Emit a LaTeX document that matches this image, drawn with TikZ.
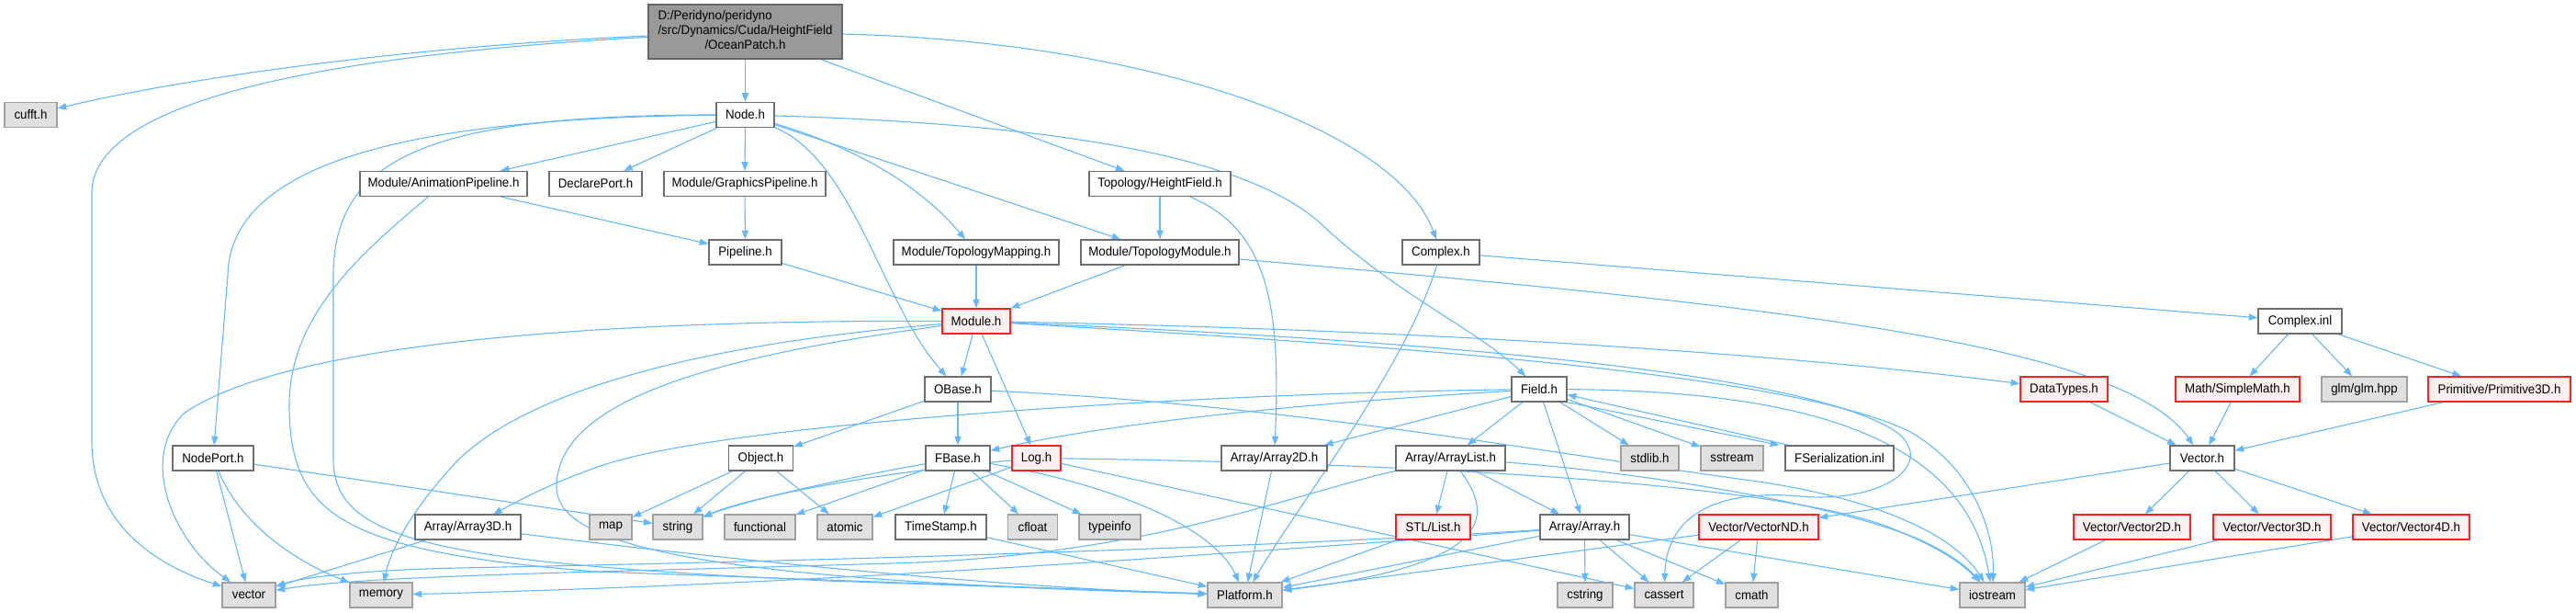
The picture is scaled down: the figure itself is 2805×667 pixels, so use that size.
\documentclass[tikz,border=0pt]{standalone}
\usepackage{fontspec}
\setmainfont{Liberation Sans}[FakeStretch=0.95]
\usetikzlibrary{arrows.meta,backgrounds}
\definecolor{edgec}{HTML}{63B8FF}
\definecolor{wborder}{HTML}{6E6E6E}
\definecolor{gfill}{HTML}{E0E0E0}
\definecolor{gborder}{HTML}{A0A0A0}
\definecolor{rfill}{HTML}{FFF0F0}
\definecolor{rborder}{HTML}{FF2020}
\definecolor{ofill}{HTML}{999999}
\definecolor{oborder}{HTML}{666666}
\tikzset{
  base/.style={rectangle, inner sep=0pt, minimum height=13.5pt, line width=0.65pt,
    font=\fontsize{7}{8}\selectfont, text=black},
  wbox/.style={base, draw=wborder, fill=white},
  gbox/.style={base, draw=gborder, fill=gfill},
  rbox/.style={base, draw=rborder, fill=rfill},
  obox/.style={base, draw=oborder, fill=ofill},
  e/.style={draw=edgec, line width=0.55pt, -{Triangle[length=4.8pt,width=3.6pt]}},
}
\begin{document}
\begin{tikzpicture}[x=0.5pt, y=-0.5pt]
\useasboundingbox (0,0) rectangle (2805,667);
% row 0
\node[obox, minimum width=105.5pt, minimum height=29.5pt] (ocean) at (811.5,34.5)
  {\begin{tabular}{@{}l@{}}D:/Peridyno/peridyno\\/src/Dynamics/Cuda/HeightField\\\multicolumn{1}{@{}c@{}}{/OceanPatch.h}\end{tabular}};
% row 1
\node[gbox, minimum width=28.5pt] (cufft) at (33.5,125) {cufft.h};
\node[wbox, minimum width=31.5pt] (node) at (811.5,125) {Node.h};
% row 2
\node[wbox, minimum width=91pt] (anim) at (483,200) {Module/AnimationPipeline.h};
\node[wbox, minimum width=50.5pt] (declare) at (648.5,200) {DeclarePort.h};
\node[wbox, minimum width=88pt] (graphics) at (811,200) {Module/GraphicsPipeline.h};
\node[wbox, minimum width=77pt] (heightfield) at (1263,200) {Topology/HeightField.h};
% row 3
\node[wbox, minimum width=39.5pt] (pipeline) at (811.5,274.5) {Pipeline.h};
\node[wbox, minimum width=90pt] (topomap) at (1063,274.5) {Module/TopologyMapping.h};
\node[wbox, minimum width=86pt] (topomod) at (1263,274.5) {Module/TopologyModule.h};
\node[wbox, minimum width=42pt] (complexh) at (1569,274.5) {Complex.h};
% row 4
\node[rbox, minimum width=37pt] (module) at (1063,349.5) {Module.h};
\node[wbox, minimum width=45.5pt] (complexinl) at (2504.5,349.5) {Complex.inl};
% row 5
\node[wbox, minimum width=36pt] (ubase) at (1043,423.5) {OBase.h};
\node[wbox, minimum width=30pt] (field) at (1676,423.5) {Field.h};
\node[rbox, minimum width=47.5pt] (datatypes) at (2247.5,423.5) {DataTypes.h};
\node[rbox, minimum width=67.5pt] (simplemath) at (2436.5,423.5) {Math/SimpleMath.h};
\node[gbox, minimum width=46.5pt] (glm) at (2574.5,423.5) {glm/glm.hpp};
\node[rbox, minimum width=77.5pt] (prim3d) at (2721.5,423.5) {Primitive/Primitive3D.h};
% row 6
\node[wbox, minimum width=44pt] (nodeport) at (232,498.5) {NodePort.h};
\node[wbox, minimum width=35pt] (object) at (828.5,498.5) {Object.h};
\node[wbox, minimum width=35pt] (fbase) at (1043,498.5) {FBase.h};
\node[rbox, minimum width=26.5pt] (log) at (1128.5,498.5) {Log.h};
\node[wbox, minimum width=57.5pt] (array2d) at (1387.5,498.5) {Array/Array2D.h};
\node[wbox, minimum width=59.5pt] (arraylist) at (1579.5,498.5) {Array/ArrayList.h};
\node[gbox, minimum width=31.5pt] (stdlib) at (1796.5,498.5) {stdlib.h};
\node[gbox, minimum width=34pt] (sstream) at (1886,498.5) {sstream};
\node[wbox, minimum width=59pt] (fserial) at (2003,498.5) {FSerialization.inl};
\node[wbox, minimum width=35pt] (vectorh) at (2398,498.5) {Vector.h};
% row 7
\node[wbox, minimum width=57.5pt] (array3d) at (509.5,573.5) {Array/Array3D.h};
\node[gbox, minimum width=23pt] (map) at (665,573.5) {map};
\node[gbox, minimum width=27pt] (string) at (738,573.5) {string};
\node[gbox, minimum width=38.5pt] (functional) at (827.5,573.5) {functional};
\node[gbox, minimum width=30pt] (atomic) at (920,573.5) {atomic};
\node[wbox, minimum width=49.5pt] (timestamp) at (1024.5,573.5) {TimeStamp.h};
\node[gbox, minimum width=27pt] (cfloat) at (1124.5,573.5) {cfloat};
\node[gbox, minimum width=33.5pt] (typeinfo) at (1208.5,573.5) {typeinfo};
\node[rbox, minimum width=40.5pt] (stllist) at (1560.5,573.5) {STL/List.h};
\node[wbox, minimum width=48.5pt] (array) at (1725.5,573.5) {Array/Array.h};
\node[rbox, minimum width=65pt] (vectornd) at (1915,573.5) {Vector/VectorND.h};
\node[rbox, minimum width=63.5pt] (vector2d) at (2321.5,573.5) {Vector/Vector2D.h};
\node[rbox, minimum width=64pt] (vector3d) at (2474,573.5) {Vector/Vector3D.h};
\node[rbox, minimum width=63.5pt] (vector4d) at (2625.5,573.5) {Vector/Vector4D.h};
% row 8
\node[gbox, minimum width=29pt] (vector) at (271,647.5) {vector};
\node[gbox, minimum width=34pt] (memory) at (415,647.5) {memory};
\node[gbox, minimum width=40.5pt] (platform) at (1355.5,647.5) {Platform.h};
\node[gbox, minimum width=30pt] (cstring) at (1726,647.5) {cstring};
\node[gbox, minimum width=32pt] (cassert) at (1812,647.5) {cassert};
\node[gbox, minimum width=28.5pt] (cmath) at (1907.5,647.5) {cmath};
\node[gbox, minimum width=35.5pt] (iostream) at (2169.5,647.5) {iostream};

\begin{pgfonlayer}{background}
% OceanPatch
\draw[e] (ocean) .. controls (450,50) and (200,85) .. (cufft);
\draw[e] (ocean) .. controls (350,60) and (100,110) .. (100,210) -- (100,480) .. controls (100,570) and (170,615) .. (vector);
\draw[e] (ocean) -- (node);
\draw[e] (ocean) -- (heightfield);
\draw[e] (ocean) .. controls (1250,45) and (1520,140) .. (complexh);
% Node.h
\draw[e] (node) -- (anim);
\draw[e] (node) -- (declare);
\draw[e] (node) -- (graphics);
\draw[e] (node) .. controls (930,160) and (1000,200) .. (topomap);
\draw[e] (node) -- (topomod);
\draw[e] (node) .. controls (930,175) and (960,330) .. (ubase);
\draw[e] (node) .. controls (1150,135) and (1360,170) .. (1440,245) .. controls (1520,320) and (1610,360) .. (field);
\draw[e] (node) .. controls (470,128) and (250,170) .. (248,300) -- (nodeport);
\draw[e] (node) .. controls (470,125) and (363,170) .. (363,300) -- (363,500) .. controls (363,590) and (480,612) .. (900,632) -- (platform);
% pipelines
\draw[e] (anim) -- (pipeline);
\draw[e] (anim) .. controls (400,270) and (315,340) .. (315,440) .. controls (315,560) and (370,600) .. (650,622) -- (platform);
\draw[e] (graphics) -- (pipeline);
\draw[e] (pipeline) -- (module);
\draw[e] (topomap) -- (module);
\draw[e] (topomod) -- (module);
\draw[e] (topomod) .. controls (1900,330) and (2310,370) .. (vectorh);
\draw[e] (heightfield) -- (topomod);
\draw[e] (heightfield) .. controls (1380,250) and (1395,330) .. (array2d);
% Complex
\draw[e] (complexh) -- (complexinl);
\draw[e] (complexh) .. controls (1530,400) and (1420,540) .. (platform);
\draw[e] (complexinl) -- (simplemath);
\draw[e] (complexinl) -- (glm);
\draw[e] (complexinl) -- (prim3d);
\draw[e] (simplemath) -- (vectorh);
\draw[e] (datatypes) -- (vectorh);
\draw[e] (prim3d) -- (vectorh);
\draw[e] (vectorh) -- (vectornd);
\draw[e] (vectorh) -- (vector2d);
\draw[e] (vectorh) -- (vector3d);
\draw[e] (vectorh) -- (vector4d);
\draw[e] (vector2d) -- (iostream);
\draw[e] (vector3d) -- (iostream);
\draw[e] (vector4d) -- (iostream);
% Module.h
\draw[e] (module) -- (ubase);
\draw[e] (module) -- (log);
\draw[e] (module) .. controls (600,348) and (300,380) .. (200,450) .. controls (150,500) and (190,590) .. (vector);
\draw[e] (module) .. controls (750,375) and (560,430) .. (490,510) .. controls (445,560) and (425,600) .. (memory);
\draw[e] (module) .. controls (760,390) and (606,440) .. (606,530) .. controls (606,600) and (800,632) .. (platform);
\draw[e] (module) .. controls (1500,358) and (1900,380) .. (datatypes);
\draw[e] (module) .. controls (1500,368) and (1960,400) .. (2065,470) .. controls (2110,505) and (2050,548) .. (1960,540) .. controls (1870,532) and (1815,560) .. (cassert);
\draw[e] (module) .. controls (1500,375) and (1950,405) .. (2080,470) .. controls (2150,510) and (2172,580) .. (iostream);
% OBase.h
\draw[e] (ubase) -- (object);
\draw[e] (ubase) -- (fbase);
\draw[e] (ubase) .. controls (1400,440) and (1700,495) .. (1900,522) .. controls (2050,542) and (2130,585) .. (iostream);
% Field.h
\draw[e] (field) .. controls (1400,440) and (1200,462) .. (fbase);
\draw[e] (field) .. controls (1300,428) and (800,460) .. (660,505) .. controls (600,525) and (565,545) .. (array3d);
\draw[e] (field) -- (array2d);
\draw[e] (field) -- (arraylist);
\draw[e] (field) -- (array);
\draw[e] (field) -- (stdlib);
\draw[e] (field) -- (sstream);
\draw[e] (field.south east) -- ([xshift=-3pt]fserial.north west);
\draw[e] ([xshift=2pt]fserial.north west) -- ([yshift=-3pt]field.east);
\draw[e] (field) .. controls (1950,425) and (2140,470) .. (iostream);
% Log.h
\draw[e] (log) .. controls (950,515) and (820,540) .. (string);
\draw[e] (log) -- (atomic);
\draw[e] (log) .. controls (1600,505) and (1950,530) .. (2060,575) .. controls (2110,595) and (2135,612) .. (iostream);
\draw[e] (log) -- (cassert);
% FBase.h
\draw[e] (fbase) .. controls (920,520) and (810,545) .. (string);
\draw[e] (fbase) -- (functional);
\draw[e] (fbase) -- (timestamp);
\draw[e] (fbase) -- (cfloat);
\draw[e] (fbase) -- (typeinfo);
\draw[e] (fbase) .. controls (1200,525) and (1320,570) .. (platform);
% Object.h
\draw[e] (object) -- (map);
\draw[e] (object) -- (string);
\draw[e] (object) -- (atomic);
% NodePort.h
\draw[e] (nodeport) -- (vector);
\draw[e] (nodeport) .. controls (262,570) and (320,610) .. (memory);
\draw[e] (nodeport) -- (string);
% Array3D
\draw[e] (array3d) -- (vector);
\draw[e] (array3d) .. controls (800,610) and (1100,640) .. (platform);
\draw[e] (timestamp) -- (platform);
\draw[e] (array2d) -- (platform);
\draw[e] (stllist) -- (platform);
% ArrayList
\draw[e] (arraylist) -- (stllist);
\draw[e] (arraylist) -- (array);
\draw[e] (arraylist) .. controls (1400,540) and (1260,600) .. (1000,612) .. controls (700,622) and (400,625) .. (vector);
\draw[e] (arraylist) .. controls (1630,565) and (1620,615) .. (platform);
\draw[e] (arraylist) .. controls (1800,515) and (2000,550) .. (2085,585) .. controls (2120,600) and (2140,615) .. (iostream);
% Array.h
\draw[e] (array) .. controls (1300,600) and (800,612) .. (500,618) .. controls (400,620) and (330,628) .. (vector);
\draw[e] (array) .. controls (1300,605) and (900,635) .. (memory);
\draw[e] (array) -- (platform);
\draw[e] (array) -- (cstring);
\draw[e] (array) -- (cassert);
\draw[e] (array) -- (cmath);
\draw[e] (array) -- (iostream);
% VectorND
\draw[e] (vectornd) -- (platform);
\draw[e] (vectornd) -- (cassert);
\draw[e] (vectornd) -- (cmath);
\end{pgfonlayer}
\end{tikzpicture}
\end{document}
